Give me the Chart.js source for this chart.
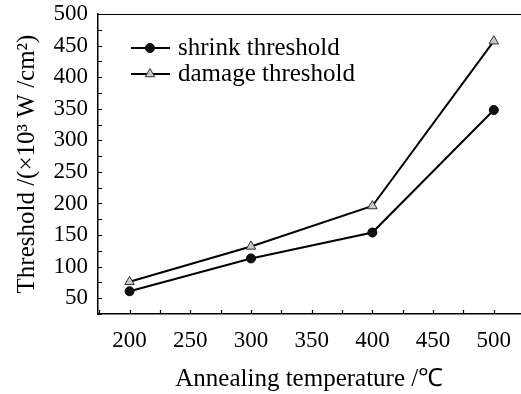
<!DOCTYPE html>
<html>
<head>
<meta charset="utf-8">
<script src="https://cdn.jsdelivr.net/npm/chart.js@4/dist/chart.umd.min.js"></script>
<style>
    html, body { margin: 0; padding: 0; background: #fff; overflow: hidden; }
    #wrap { width: 527px; height: 394px; }
</style>
</head>
<body>
<div id="wrap"><canvas id="thresholdChart"></canvas></div>
<script>
const temps = [200, 300, 400, 500];
const shrinkVals = [61, 113, 154, 348];
const damageVals = [76, 132, 196, 457];
const seriesNames = ['shrink threshold', 'damage threshold'];
const xTicks = [200, 250, 300, 350, 400, 450, 500];
const yTicks = [50, 100, 150, 200, 250, 300, 350, 400, 450, 500];

const serif = '"Liberation Serif", "Times New Roman", serif';

// frame: top line and short inward tick marks every 25
const framePlugin = {
    id: 'frame',
    afterDraw(chart) {
        const ctx = chart.ctx;
        const area = chart.chartArea;
        const xs = chart.scales.x, ys = chart.scales.y;
        ctx.save();
        ctx.strokeStyle = '#000';
        ctx.lineWidth = 1.2;
        ctx.beginPath();
        ctx.moveTo(area.left, area.top + 0.5);
        ctx.lineTo(chart.width, area.top + 0.5);
        for (let v = Math.ceil(xs.min / 25) * 25; v <= xs.max; v += 25) {
            const px = Math.round(xs.getPixelForValue(v)) + 0.5;
            ctx.moveTo(px, area.bottom);
            ctx.lineTo(px, area.bottom - 4);
        }
        for (let v = Math.ceil(ys.min / 25) * 25; v <= ys.max; v += 25) {
            const py = Math.round(ys.getPixelForValue(v)) + 0.5;
            ctx.moveTo(area.left, py);
            ctx.lineTo(area.left + 4, py);
        }
        ctx.stroke();
        ctx.restore();
    }
};

// legend drawn inside the plot: line with marker, then label
const insideLegend = {
    id: 'insideLegend',
    afterDraw(chart) {
        const ctx = chart.ctx;
        ctx.save();
        chart.data.datasets.forEach((ds, i) => {
            const y = 48 + i * 26;
            ctx.strokeStyle = '#000';
            ctx.lineWidth = 2;
            ctx.beginPath();
            ctx.moveTo(131, y);
            ctx.lineTo(170, y);
            ctx.stroke();
            ctx.fillStyle = ds.pointBackgroundColor;
            ctx.strokeStyle = ds.pointBorderColor;
            ctx.lineWidth = ds.pointBorderWidth;
            Chart.helpers.drawPoint(ctx, {
                pointStyle: ds.pointStyle,
                radius: ds.pointRadius,
                rotation: 0,
                borderWidth: ds.pointBorderWidth
            }, 150, y);
            ctx.fillStyle = '#000';
            ctx.font = '25px ' + serif;
            ctx.textBaseline = 'middle';
            ctx.fillText(ds.label, 178, y);
        });
        ctx.restore();
    }
};

const ctx = document.getElementById('thresholdChart').getContext('2d');
new Chart(ctx, {
    type: 'line',
    data: {
        datasets: [
            {
                label: seriesNames[0],
                data: temps.map((t, i) => ({ x: t, y: shrinkVals[i] })),
                borderColor: '#000',
                borderWidth: 2,
                pointStyle: 'circle',
                pointRadius: 4.5,
                pointBackgroundColor: '#111',
                pointBorderColor: '#000',
                pointBorderWidth: 1
            },
            {
                label: seriesNames[1],
                data: temps.map((t, i) => ({ x: t, y: damageVals[i] })),
                borderColor: '#000',
                borderWidth: 2,
                pointStyle: 'triangle',
                pointRadius: 5.5,
                pointBackgroundColor: '#c8c8c8',
                pointBorderColor: '#333',
                pointBorderWidth: 1
            }
        ]
    },
    options: {
        responsive: true,
        maintainAspectRatio: false,
        animation: false,
        layout: { padding: { top: 14, right: 0, left: 0, bottom: 0 } },
        plugins: {
            legend: { display: false },
            tooltip: { enabled: false }
        },
        scales: {
            x: {
                type: 'linear',
                min: 174,
                max: 522,
                afterBuildTicks: s => { s.ticks = xTicks.map(v => ({ value: v })); },
                afterFit: s => { s.height = 80; },
                grid: { display: false, drawTicks: false },
                border: { display: true, color: '#000', width: 1.5 },
                ticks: {
                    color: '#000',
                    font: { family: serif, size: 23 },
                    padding: 13,
                    maxRotation: 0,
                    autoSkip: false
                },
                title: {
                    display: true,
                    text: 'Annealing temperature /℃',
                    color: '#000',
                    font: { family: serif, size: 25 },
                    padding: { top: 0, bottom: 0 }
                }
            },
            y: {
                min: 25,
                max: 500,
                afterBuildTicks: s => { s.ticks = yTicks.map(v => ({ value: v })); },
                afterFit: s => { s.width = 98; s.paddingTop = 0; s.paddingBottom = 0; },
                grid: { display: false, drawTicks: false },
                border: { display: true, color: '#000', width: 1.5 },
                ticks: {
                    color: '#000',
                    font: { family: serif, size: 23 },
                    padding: 10
                },
                title: {
                    display: true,
                    text: 'Threshold /(×10³ W /cm²)',
                    color: '#000',
                    font: { family: serif, size: 25 },
                    padding: { top: 12, bottom: 4 }
                }
            }
        }
    },
    plugins: [framePlugin, insideLegend]
});
</script>
</body>
</html>
